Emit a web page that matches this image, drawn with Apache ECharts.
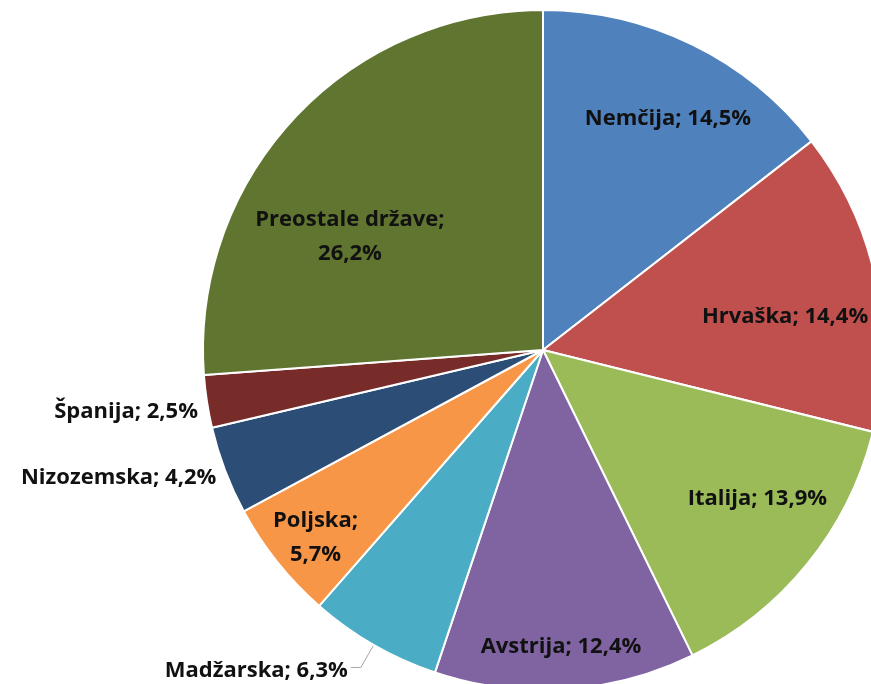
<!DOCTYPE html>
<html>
<head>
<meta charset="utf-8">
<script src="https://cdn.jsdelivr.net/npm/echarts@6/dist/echarts.min.js"></script>
<style>
  html, body { margin: 0; padding: 0; background: #fff; }
  #chart { width: 871px; height: 684px; }
</style>
</head>
<body>
<div id="chart"></div>
<script>
const countries = ['Nemčija', 'Hrvaška', 'Italija', 'Avstrija', 'Madžarska', 'Poljska', 'Nizozemska', 'Španija', 'Preostale države'];
const shares = [14.5, 14.4, 13.9, 12.4, 6.3, 5.7, 4.2, 2.5, 26.2];
const colors = ['#4f81bd', '#c0504d', '#9bbb59', '#8064a2', '#4bacc6', '#f79646', '#2c4d75', '#772c2a', '#5f7530'];
// which labels sit outside the pie, which wrap onto two lines
const outside = ['Madžarska', 'Nizozemska', 'Španija'];
const wrapped = ['Poljska', 'Preostale države'];
// small nudges so labels land where the "best fit" placement put them
const labelNudge = {
  'Nemčija': [5, 14], 'Hrvaška': [-25, 23], 'Italija': [2, -23], 'Avstrija': [0, 24],
  'Poljska': [-14, 18], 'Preostale države': [7, 73],
  'Madžarska': [0, 3], 'Nizozemska': [0, 6], 'Španija': [0, 10]
};

const fmt = p => p.name + ';' + (wrapped.includes(p.name) ? '\n' : ' ') +
  p.value.toFixed(1).replace('.', ',') + '%';

const labelFont = {
  fontFamily: 'Open Sans',
  fontWeight: 'bold',
  fontSize: 22,
  color: '#111',
  lineHeight: 34
};

const nudge = p => {
  const n = labelNudge[countries[p.dataIndex]] || [0, 0];
  return { dx: n[0], dy: n[1] };
};

const chart = echarts.init(document.getElementById('chart'));

const option = {
  animation: false,
  color: colors,
  series: [
    {
      // the slices, with the few outside labels
      type: 'pie',
      center: [543, 350],
      radius: [0, 340],
      startAngle: 90,
      clockwise: true,
      avoidLabelOverlap: false,
      itemStyle: { borderColor: '#fff', borderWidth: 2 },
      label: { show: false },
      labelLine: { show: false },
      labelLayout: nudge,
      data: countries.map((name, i) => {
        const d = { name, value: shares[i] };
        if (outside.includes(name)) {
          const isMad = name === 'Madžarska';
          d.label = Object.assign({ show: true, position: 'outside', formatter: fmt, distanceToLabelLine: 3 }, labelFont);
          d.labelLine = {
            show: isMad,
            length: isMad ? 26 : 4,
            length2: isMad ? 10 : 2,
            lineStyle: { color: '#a6a6a6', width: 1 }
          };
        }
        return d;
      })
    },
    {
      // transparent ring only used to place inside labels further out
      type: 'pie',
      center: [543, 350],
      radius: [200, 340],
      startAngle: 90,
      clockwise: true,
      silent: true,
      itemStyle: { color: 'transparent', borderWidth: 0 },
      label: Object.assign({ show: true, position: 'inside', formatter: fmt }, labelFont),
      labelLine: { show: false },
      labelLayout: nudge,
      data: countries.map((name, i) => ({
        name,
        value: shares[i],
        label: { show: !outside.includes(name) }
      }))
    }
  ]
};

chart.setOption(option);
window.addEventListener('resize', () => chart.resize());
</script>
</body>
</html>
